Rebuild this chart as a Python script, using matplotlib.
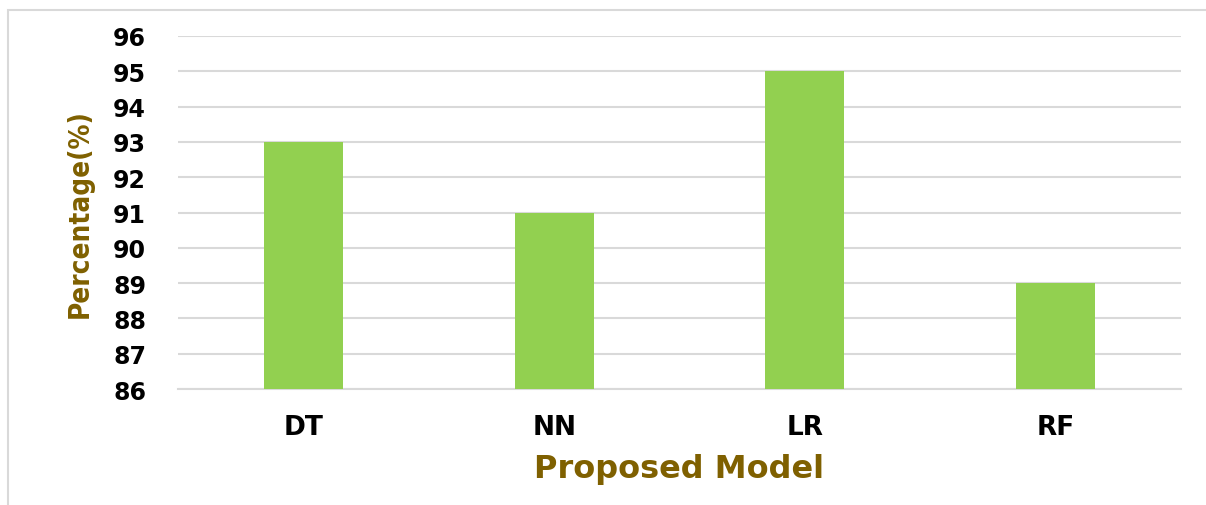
import matplotlib
matplotlib.use("Agg")
import matplotlib.pyplot as plt
from matplotlib.patches import Rectangle

models = ["DT", "NN", "LR", "RF"]
accuracy = [93, 91, 95, 89]
y_ticks = [86, 87, 88, 89, 90, 91, 92, 93, 94, 95, 96]

label_color = "#7F6000"
bar_color = "#92D050"
grid_color = "#D9D9D9"

fig = plt.figure(figsize=(12.06, 5.06), dpi=100)
ax = fig.add_axes([0.1476, 0.2292, 0.8317, 0.6977])

# outer chart frame, open on the right and bottom
fig.patches.append(Rectangle((8 / 1206, -0.2), 1.5, 1.2 - 11 / 506,
                             transform=fig.transFigure, fill=False,
                             edgecolor=grid_color, linewidth=1.5))

x = list(range(len(models)))
ax.bar(x, accuracy, width=0.315, color=bar_color, zorder=3)
ax.set_ylim(86, 96)
ax.set_xlim(-0.5, len(models) - 0.5)
ax.set_yticks(y_ticks)
ax.set_xticks(x)
ax.set_xticklabels(models)
ax.yaxis.grid(True, color=grid_color, linewidth=1.5, zorder=0)
ax.set_axisbelow(True)
for s in ["top", "right", "left"]:
    ax.spines[s].set_visible(False)
ax.spines["bottom"].set_color(grid_color)
ax.spines["bottom"].set_linewidth(1.5)
ax.tick_params(axis="both", length=0)
ax.tick_params(axis="y", pad=23, labelsize=17)
ax.tick_params(axis="x", pad=18, labelsize=19)
for t in ax.get_yticklabels() + ax.get_xticklabels():
    t.set_fontweight("bold")

ax.set_xlabel("Proposed Model", fontsize=23, fontweight="bold",
              color=label_color, labelpad=9)
ax.set_ylabel("Percentage(%)", fontsize=20, fontweight="bold",
              color=label_color, labelpad=14,
              family="DejaVu Sans", fontstretch="condensed")

fig.savefig("out.png", dpi=100)
